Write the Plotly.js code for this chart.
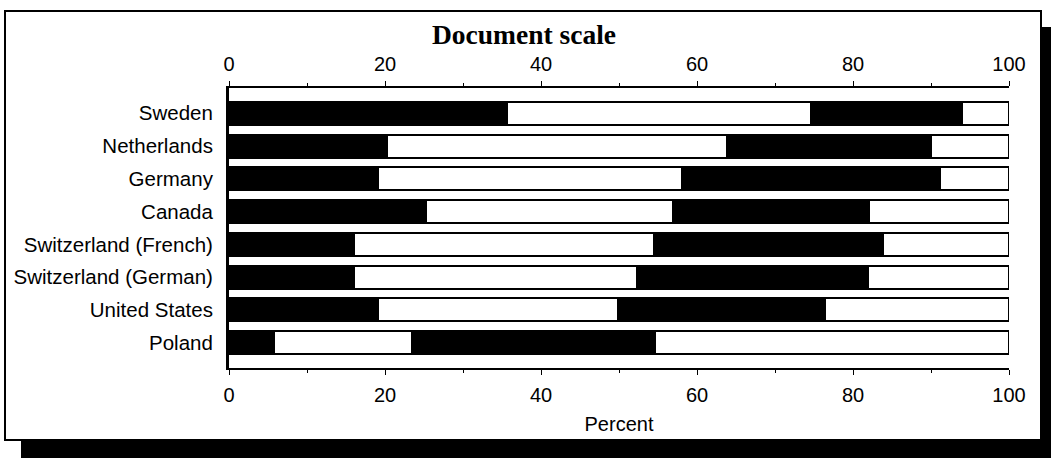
<!DOCTYPE html>
<html>
<head>
<meta charset="utf-8">
<script src="https://cdn.plot.ly/plotly-3.0.1.min.js"></script>
<style>
  html, body { margin: 0; padding: 0; width: 1051px; height: 458px; overflow: hidden; background: #fff; }
  #frame { position: absolute; left: 4px; top: 10px; width: 1034px; height: 427px; border: 2px solid #000; background: #fff; box-shadow: 17px 17px 0 #000; }
  #chart { position: absolute; left: 0; top: 0; width: 1051px; height: 458px; }
</style>
</head>
<body>
<div id="frame"></div>
<div id="chart"></div>
<script>
const countries = ['Sweden', 'Netherlands', 'Germany', 'Canada', 'Switzerland (French)', 'Switzerland (German)', 'United States', 'Poland'];
const level45 = [35.7, 20.2, 19.1, 25.2, 16.0, 16.0, 19.1, 5.8];
const level3  = [38.9, 43.6, 39.0, 31.7, 38.5, 36.3, 30.8, 17.6];
const level2  = [19.4, 26.2, 33.1, 25.1, 29.4, 29.6, 26.5, 31.2];
const level1  = [6.0, 10.0, 8.8, 18.0, 16.1, 18.1, 23.6, 45.4];
const seriesNames = ['Level 4/5', 'Level 3', 'Level 2', 'Level 1'];
const tickVals = [0, 20, 40, 60, 80, 100];

const series = [level45, level3, level2, level1];
const fills = ['#000000', '#ffffff', '#000000', '#ffffff'];

const traces = series.map((vals, i) => ({
  type: 'bar',
  orientation: 'h',
  name: seriesNames[i],
  y: countries,
  x: vals,
  marker: { color: fills[i], line: { color: '#000000', width: 2 } },
  hoverinfo: 'x+y+name'
}));

// invisible copy on the top axis so that the top scale is drawn
traces.push({
  type: 'bar',
  orientation: 'h',
  name: 'top axis',
  y: countries,
  x: level45,
  xaxis: 'x2',
  yaxis: 'y',
  marker: { color: 'rgba(0,0,0,0)', line: { width: 0 } },
  hoverinfo: 'skip'
});

const font = { family: 'Liberation Sans, Arial, sans-serif', size: 20, color: '#000' };
const yfont = { family: 'Liberation Sans, Arial, sans-serif', size: 20.5, color: '#000' };

const axisCommon = {
  range: [0, 100],
  tickvals: tickVals,
  ticks: 'outside', ticklen: 5, tickwidth: 1, tickcolor: '#000',
  minor: { dtick: 10, ticks: 'outside', ticklen: 3, tickcolor: '#000' },
  showline: true, linecolor: '#000', linewidth: 2,
  showgrid: false, zeroline: false,
  tickfont: font
};

const layout = {
  width: 1051,
  height: 458,
  margin: { l: 229, r: 42, t: 88, b: 90, pad: 0 },
  paper_bgcolor: 'rgba(0,0,0,0)',
  plot_bgcolor: 'rgba(0,0,0,0)',
  barmode: 'stack',
  bargap: 0.3,
  showlegend: false,
  font: font,
  title: {
    text: '<b>Document scale</b>',
    font: { family: 'Liberation Serif, Times New Roman, serif', size: 27.5, color: '#000' },
    x: 524 / 1051, xanchor: 'center',
    y: 1 - 34 / 458, yanchor: 'middle'
  },
  xaxis: Object.assign({}, axisCommon, {
    ticklabelstandoff: 3,
    title: { text: 'Percent', font: font, standoff: 12 }
  }),
  xaxis2: Object.assign({}, axisCommon, {
    overlaying: 'x',
    side: 'top',
    anchor: 'y',
    ticklabelstandoff: 2
  }),
  yaxis: {
    type: 'category',
    range: [7.77, -0.77],
    showline: true, linecolor: '#000', linewidth: 3,
    ticks: '', showgrid: false, zeroline: false,
    tickfont: yfont,
    ticklabelstandoff: 9
  }
};

Plotly.newPlot('chart', traces, layout, { displayModeBar: false, staticPlot: true });
</script>
</body>
</html>
